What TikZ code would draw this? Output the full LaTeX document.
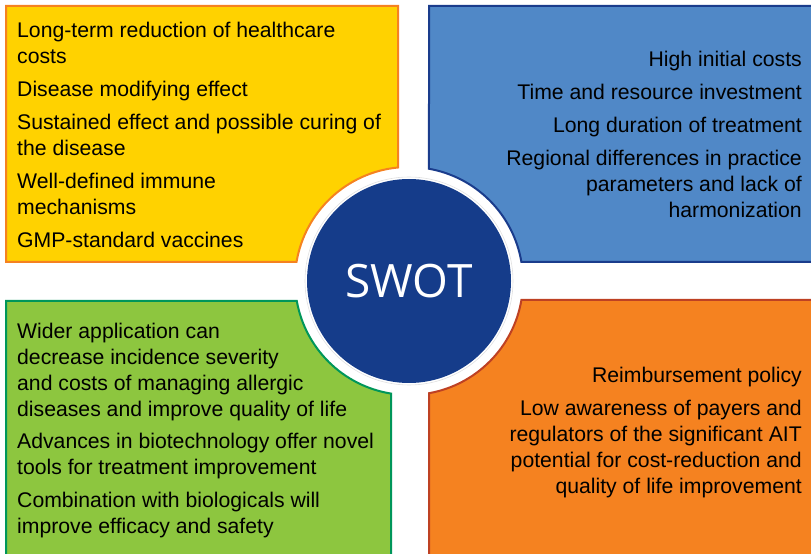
\documentclass[tikz,border=0pt]{standalone}
\usepackage{fontspec}
\setmainfont{Liberation Sans}
\newfontfamily\swotfont{Open Sans}
\usepackage{tikz}
\usetikzlibrary{calc}
\definecolor{sYellow}{RGB}{255,210,0}
\definecolor{sYellowLine}{RGB}{245,130,32}
\definecolor{wBlue}{RGB}{80,136,199}
\definecolor{wBlueLine}{RGB}{26,60,140}
\definecolor{oGreen}{RGB}{141,198,63}
\definecolor{oGreenLine}{RGB}{0,150,90}
\definecolor{tOrange}{RGB}{245,130,32}
\definecolor{tOrangeLine}{RGB}{190,65,35}
\definecolor{swotBlue}{RGB}{21,60,138}
\newcommand{\gapr}{114}
\newcommand{\diskr}{102}
\tikzset{
  quad/.style={line width=2pt, line join=miter},
  quadtext/.style={inner sep=0pt, font=\fontsize{21.2}{26}\selectfont},
  lefttext/.style={quadtext, anchor=north west, align=left},
  righttext/.style={quadtext, anchor=north east, align=right}
}

\begin{document}
\begin{tikzpicture}[x=1pt,y=1pt]
\useasboundingbox (0,0) rectangle (811,554);
\coordinate (c) at (409,273);

\draw[quad, draw=sYellowLine, fill=sYellow] (6,548) -- (398,548) -- (398,386.5) arc[start angle=95.5, end angle=170.4, radius=\gapr] -- (6,292) -- cycle;
\draw[quad, draw=wBlueLine, fill=wBlue] (429,548) -- (815,548) -- (815,292) -- (521.4,292) arc[start angle=9.6, end angle=79.9, radius=\gapr] -- cycle;
\draw[quad, draw=oGreenLine, fill=oGreen] (6,253) -- (296.8,253) arc[start angle=190.1, end angle=260.9, radius=\gapr] -- (391,-5) -- (6,-5) -- cycle;
\draw[quad, draw=tOrangeLine, fill=tOrange] (429,-5) -- (429,160.8) arc[start angle=280.1, end angle=350.4, radius=\gapr] -- (815,254) -- (815,-5) -- cycle;

\draw[black!12, line width=0.6pt] (c) circle (\diskr+2);
\node[circle, fill=swotBlue, minimum size=2*\diskr, inner sep=0pt, text=white, font=\swotfont\fontsize{46}{50}\selectfont] (swot) at (c) {SWOT};

\node[lefttext] (strengths) at (17,535.2) {\strut Long-term reduction of healthcare\\ costs\\[7pt]
  Disease modifying effect\\[7pt]
  Sustained effect and possible curing of\\ the disease\\[7pt]
  Well-defined immune\\ mechanisms\\[7pt]
  GMP-standard vaccines};
\node[righttext] (weaknesses) at (802,506.2) {\strut High initial costs\\[7pt]
  Time and resource investment\\[7pt]
  Long duration of treatment\\[7pt]
  Regional differences in practice\\ parameters and lack of\\ harmonization};
\node[lefttext] (opportunities) at (17,234.2) {\strut Wider application can\\ decrease incidence severity\\ and costs of managing allergic\\ diseases and improve quality of life\\[6pt]
  Advances in biotechnology offer novel\\ tools for treatment improvement\\[7pt]
  Combination with biologicals will\\ improve efficacy and safety};
\node[righttext] (threats) at (802,190.2) {\strut Reimbursement policy\\[7pt]
  Low awareness of payers and\\ regulators of the significant AIT\\ potential for cost-reduction and\\ quality of life improvement};
\end{tikzpicture}
\end{document}
